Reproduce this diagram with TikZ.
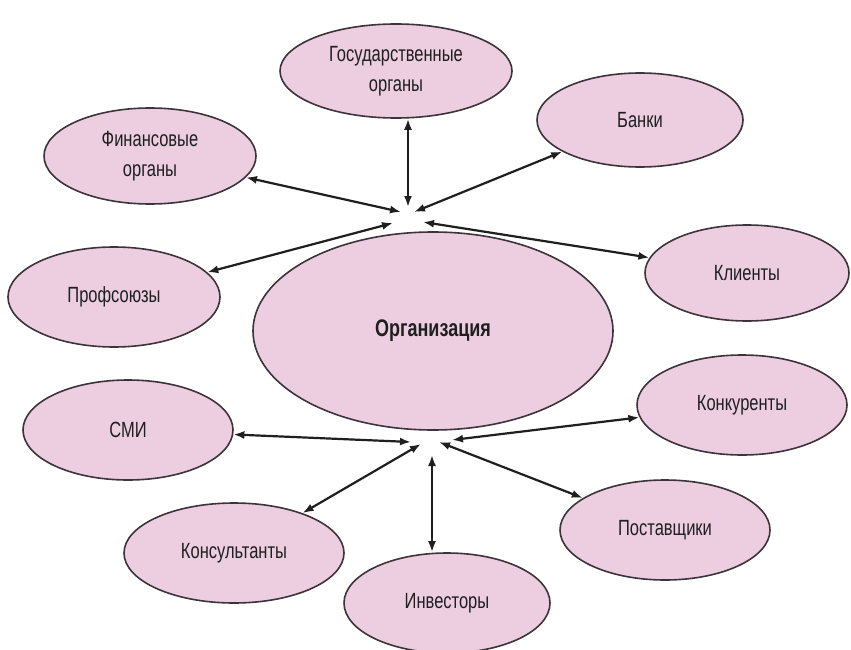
\documentclass[tikz,border=0pt]{standalone}
\usepackage{fontspec}
\setmainfont{Liberation Sans}[FakeStretch=0.75]
\usetikzlibrary{shapes.geometric,arrows.meta}
\definecolor{pinkfill}{RGB}{236,206,224}
\definecolor{edgegray}{RGB}{60,52,58}
\tikzset{
  oval/.style={ellipse, draw=edgegray, line width=1.6pt, fill=pinkfill, inner sep=0pt,
    align=center, text=black!88, font=\fontsize{22}{30}\selectfont},
  link/.style={{Latex[length=11pt,width=8pt]}-{Latex[length=11pt,width=8pt]}, line width=2.2pt, black!88}
}
\newcommand{\ovalnode}[6]{\node[oval, minimum width=#4pt, minimum height=#5pt] (#1) at (#2,#3) {#6};}
\begin{document}
\begin{tikzpicture}[x=1pt,y=-1pt]
\useasboundingbox (0,0) rectangle (851,650);
\ovalnode{gos}{396}{71}{232}{94}{Государственные\\органы}
\ovalnode{bank}{640}{120}{206}{94}{Банки}
\ovalnode{fin}{150}{156}{212}{96}{Финансовые\\органы}
\ovalnode{prof}{114}{297}{212}{100}{Профсоюзы}
\ovalnode{cli}{747}{273}{204}{96}{Клиенты}
\node[oval, minimum width=360pt, minimum height=198pt, font=\fontsize{24}{28}\selectfont\bfseries] (org) at (433,331) {Организация};
\ovalnode{konk}{742}{405}{210}{100}{Конкуренты}
\ovalnode{smi}{128}{430}{210}{100}{СМИ}
\ovalnode{post}{665}{530}{210}{100}{Поставщики}
\ovalnode{kons}{234}{553}{220}{100}{Консультанты}
\ovalnode{inv}{447}{603}{206}{100}{Инвесторы}
% convergence points
\coordinate (tgos) at (408,207);
\coordinate (tfin) at (401,212);
\coordinate (tbank) at (414,212);
\coordinate (tprof) at (393,223);
\coordinate (tcli) at (423,222);
\coordinate (bsmi) at (411,442);
\coordinate (bkons) at (421,444);
\coordinate (binv) at (432,455);
\coordinate (bpost) at (439,442);
\coordinate (bkonk) at (452,440);
\draw[link] (tgos |- gos.south) -- (tgos);
\draw[link] (fin) -- (tfin);
\draw[link] (bank) -- (tbank);
\draw[link] (prof) -- (tprof);
\draw[link] (cli) -- (tcli);
\draw[link] (smi) -- (bsmi);
\draw[link] (kons) -- (bkons);
\draw[link] (binv |- inv.north) -- (binv);
\draw[link] (post) -- (bpost);
\draw[link] (konk) -- (bkonk);
\end{tikzpicture}
\end{document}
